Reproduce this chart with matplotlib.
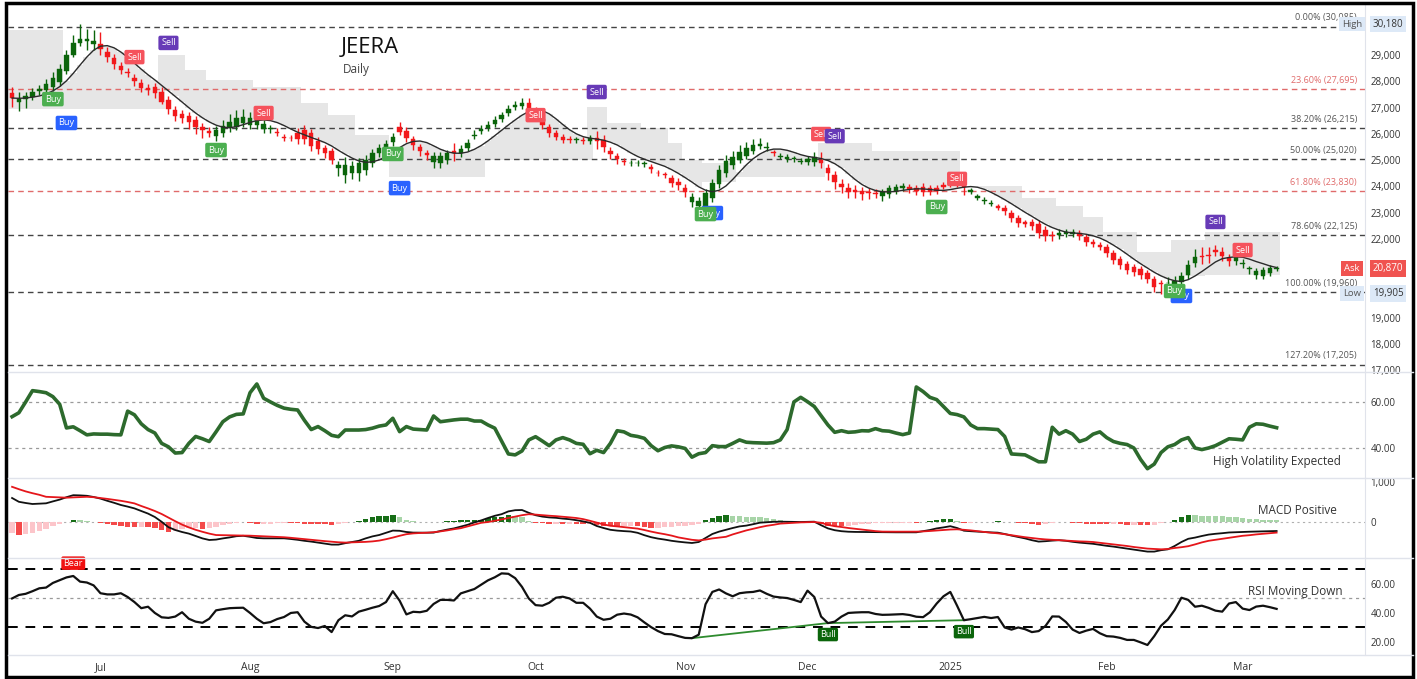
import numpy as np
import pandas as pd
import matplotlib
matplotlib.use("Agg")
import matplotlib.pyplot as plt
from matplotlib.transforms import blended_transform_factory
from matplotlib.lines import Line2D
from matplotlib.patches import Rectangle

plt.rcParams['font.family'] = ['Open Sans', 'DejaVu Sans']

# ------------------------------------------------------------------ data
opens = [
    27550, 27210, 27320, 27400, 27630, 27670, 27780, 27970, 28390, 29000,
    29460, 29530, 29420, 29420, 29110, 28890, 28580, 28350, 28120, 27930,
    27740, 27780, 27590, 27290, 26900, 26750, 26680, 26520, 26260, 26100,
    25910, 26030, 26220, 26260, 26410, 26330, 26330, 26180, 26180, 26070,
    25880, 25840, 26030, 26140, 26030, 25720, 25460, 25340, 24700, 24430,
    24500, 24500, 24620, 24890, 25270, 25460, 25690, 26260, 26100, 25800,
    25500, 25270, 24920, 24890, 25000, 25340, 25270, 25460, 25910, 26100,
    26220, 26370, 26560, 26790, 27020, 27060, 27170, 26870, 26560, 26260,
    26030, 25880, 25800, 25760, 25760, 25720, 25840, 25760, 25340, 25150,
    24960, 24870, 24870, 24830, 24730, 24520, 24450, 24310, 24160, 23930,
    23400, 23250, 23250, 23550, 24090, 24500, 24810, 25000, 25150, 25340,
    25530, 25440, 25290, 25130, 25040, 25020, 24940, 24920, 24920, 25000,
    24700, 24430, 24090, 23930, 23860, 23820, 23780, 23760, 23630, 23700,
    23820, 23930, 23970, 23930, 23970, 23930, 23930, 24030, 24180, 24240,
    24090, 23800, 23570, 23440, 23340, 23230, 23170, 22980, 22790, 22620,
    22640, 22560, 22330, 22160, 22140, 22200, 22200, 22220, 22070, 21880,
    21760, 21690, 21460, 21230, 21040, 20920, 20850, 20700, 20470, 20300,
    20300, 20240, 20350, 20620, 21080, 21360, 21400, 21570, 21500, 21270,
    21150, 21020, 20830, 20620, 20580, 20700, 20840,
]
closes = [
    27360, 27320, 27440, 27590, 27700, 27900, 28120, 28470, 29000, 29460,
    29610, 29610, 29530, 29230, 28920, 28660, 28430, 28310, 28010, 27740,
    27670, 27550, 27210, 26940, 26680, 26600, 26450, 26260, 26140, 26030,
    26140, 26300, 26450, 26600, 26640, 26600, 26560, 26370, 26200, 26030,
    25840, 25820, 25800, 25800, 25530, 25420, 25270, 25000, 24810, 24810,
    24770, 24890, 25000, 25270, 25460, 25610, 25880, 26070, 25840, 25570,
    25340, 25190, 25150, 25150, 25270, 25270, 25420, 25650, 25950, 26180,
    26330, 26520, 26710, 26940, 27100, 27170, 26980, 26680, 26330, 26030,
    25880, 25760, 25760, 25780, 25720, 25840, 25720, 25500, 25230, 25040,
    24920, 24900, 24900, 24870, 24660, 24490, 24410, 24120, 24050, 23780,
    23590, 23440, 23740, 24120, 24620, 24960, 25110, 25300, 25460, 25570,
    25610, 25480, 25250, 25170, 25110, 25060, 24980, 25040, 25110, 24890,
    24500, 24160, 23970, 23780, 23780, 23700, 23740, 23720, 23780, 23930,
    23970, 24010, 23890, 23820, 23780, 23780, 23820, 23990, 24140, 24120,
    23970, 23840, 23610, 23480, 23380, 23190, 23060, 22790, 22600, 22580,
    22490, 22220, 22110, 22120, 22220, 22240, 22240, 22110, 21880, 21800,
    21690, 21460, 21190, 21000, 20810, 20730, 20620, 20470, 20160, 20260,
    20330, 20390, 20580, 21000, 21310, 21320, 21360, 21500, 21340, 21150,
    21340, 21060, 20870, 20770, 20810, 20890, 20870,
]
wick_up = [
    230, 270, 150, 150, 150, 190, 230, 190, 190, 300,
    570, 380, 420, 460, 190, 150, 150, 150, 150, 150,
    150, 150, 190, 150, 150, 150, 150, 150, 150, 150,
    150, 230, 300, 300, 300, 230, 190, 150, 150, 150,
    110, 110, 190, 190, 150, 150, 110, 110, 150, 300,
    190, 190, 190, 150, 150, 150, 150, 190, 150, 110,
    110, 110, 150, 150, 110, 300, 150, 150, 190, 150,
    150, 150, 110, 150, 150, 190, 190, 150, 110, 110,
    110, 110, 110, 110, 110, 110, 270, 190, 150, 110,
    110, 110, 110, 110, 110, 110, 110, 110, 150, 150,
    150, 150, 150, 150, 190, 230, 230, 270, 230, 230,
    230, 190, 110, 110, 110, 110, 110, 110, 190, 300,
    150, 150, 190, 190, 190, 150, 150, 150, 110, 110,
    110, 110, 110, 110, 150, 110, 110, 150, 190, 190,
    150, 110, 110, 110, 110, 110, 110, 110, 110, 110,
    110, 150, 150, 150, 150, 150, 150, 110, 110, 110,
    110, 110, 110, 110, 110, 110, 110, 110, 110, 110,
    230, 190, 150, 190, 300, 340, 300, 190, 190, 150,
    150, 150, 110, 110, 110, 110, 110,
]
wick_dn = [
    340, 340, 340, 110, 150, 190, 150, 150, 110, 80,
    110, 340, 230, 230, 190, 190, 150, 150, 190, 150,
    190, 190, 80, 190, 190, 190, 270, 270, 300, 150,
    190, 150, 150, 110, 150, 150, 150, 150, 150, 110,
    110, 110, 190, 190, 190, 190, 190, 150, 300, 300,
    230, 300, 190, 150, 150, 150, 150, 110, 150, 190,
    190, 190, 230, 190, 150, 300, 150, 110, 110, 110,
    110, 110, 110, 110, 110, 110, 150, 150, 150, 150,
    110, 110, 110, 110, 110, 110, 300, 190, 190, 190,
    110, 110, 110, 110, 150, 110, 110, 150, 190, 190,
    190, 150, 150, 150, 150, 150, 150, 110, 110, 110,
    110, 110, 110, 110, 110, 110, 110, 110, 150, 190,
    270, 270, 230, 230, 230, 230, 230, 150, 190, 150,
    110, 110, 150, 150, 150, 110, 110, 110, 150, 150,
    300, 110, 110, 110, 110, 110, 150, 150, 150, 150,
    150, 190, 190, 190, 150, 150, 150, 150, 150, 110,
    110, 150, 150, 150, 150, 150, 150, 150, 190, 355,
    270, 190, 190, 150, 150, 270, 270, 150, 190, 190,
    150, 150, 190, 150, 110, 110, 80,
]
volatility = [
    53.6, 55.3, 60.0, 64.9, 64.5, 64.0, 62.3, 59.0, 48.7, 49.2,
    47.5, 45.7, 46.1, 46.0, 46.0, 45.8, 45.7, 56.0, 54.4, 50.5,
    48.0, 46.5, 42.0, 40.5, 37.8, 38.0, 42.0, 45.0, 44.0, 42.8,
    47.0, 51.4, 53.5, 54.6, 54.8, 64.0, 67.8, 61.6, 60.0, 58.5,
    57.3, 56.8, 56.5, 52.0, 48.0, 49.3, 47.5, 45.5, 44.9, 47.8,
    47.8, 47.8, 48.0, 48.6, 49.5, 50.0, 52.9, 47.1, 49.3, 48.2,
    48.0, 47.8, 53.9, 51.4, 51.8, 52.2, 52.5, 52.5, 51.7, 51.7,
    50.0, 48.6, 43.0, 37.4, 37.0, 38.7, 43.5, 44.9, 43.0, 41.0,
    43.5, 44.5, 43.5, 42.0, 41.6, 37.5, 39.0, 38.0, 42.0, 47.5,
    47.0, 45.5, 45.0, 44.2, 41.0, 38.8, 40.2, 40.9, 40.5, 39.8,
    36.0, 37.5, 38.0, 41.0, 40.6, 40.6, 42.0, 43.5, 42.5, 42.3,
    42.2, 42.1, 42.3, 43.5, 48.0, 60.0, 62.0, 60.1, 58.0, 54.0,
    50.0, 46.8, 47.5, 46.8, 47.0, 47.5, 47.4, 48.4, 47.5, 47.3,
    46.5, 45.8, 46.5, 66.5, 64.5, 62.0, 61.0, 58.0, 55.0, 54.5,
    53.5, 50.0, 48.4, 48.4, 48.2, 48.0, 45.0, 37.4, 37.2, 37.0,
    35.5, 34.0, 34.0, 49.0, 46.0, 47.5, 46.0, 42.8, 43.8, 46.0,
    47.0, 44.5, 42.8, 42.0, 41.5, 40.0, 35.0, 31.0, 33.0, 38.0,
    40.5, 41.5, 43.5, 44.5, 40.0, 39.3, 40.0, 41.0, 42.5, 44.0,
    43.8, 43.5, 49.0, 50.5, 50.3, 49.5, 48.8,
]
macd_line = [
    600, 505, 475, 450, 458, 467, 515, 560, 620, 670,
    665, 655, 625, 585, 530, 480, 425, 385, 340, 275,
    210, 125, 5, -130, -200, -250, -290, -350, -410, -450,
    -440, -410, -385, -355, -345, -370, -400, -408, -408, -408,
    -408, -425, -445, -470, -490, -515, -540, -565, -565, -530,
    -500, -470, -410, -360, -325, -270, -215, -220, -250, -265,
    -267, -267, -265, -225, -190, -160, -115, -70, -10, 40,
    100, 155, 195, 265, 295, 300, 230, 170, 135, 115,
    105, 85, 70, 45, 15, -20, -100, -150, -195, -215,
    -228, -238, -270, -330, -380, -415, -440, -470, -492, -510,
    -525, -500, -400, -300, -240, -195, -150, -110, -90, -55,
    -17, -5, 5, 8, 5, 2, 0, 4, 8, -80,
    -160, -205, -230, -243, -248, -250, -253, -256, -258, -258,
    -258, -258, -258, -258, -230, -200, -160, -135, -105, -150,
    -217, -230, -240, -250, -260, -267, -300, -340, -375, -410,
    -455, -490, -480, -465, -455, -470, -495, -515, -530, -545,
    -570, -595, -615, -640, -665, -690, -715, -740, -740, -705,
    -683, -600, -500, -420, -390, -350, -315, -295, -280, -262,
    -255, -250, -243, -238, -235, -230, -225,
]
signal_line = [
    880, 820, 765, 720, 680, 630, 622, 615, 608, 615,
    622, 630, 620, 600, 578, 555, 530, 500, 465, 400,
    340, 275, 200, 110, 20, -65, -135, -195, -245, -290,
    -326, -330, -333, -336, -339, -342, -350, -358, -365, -373,
    -381, -395, -412, -430, -447, -463, -478, -493, -507, -515,
    -510, -503, -497, -485, -465, -430, -390, -345, -305, -285,
    -275, -268, -255, -235, -210, -180, -155, -110, -65, -20,
    0, 30, 65, 100, 135, 170, 195, 185, 170, 157,
    146, 132, 116, 100, 72, 30, -15, -60, -95, -110,
    -128, -145, -165, -200, -240, -275, -305, -340, -385, -415,
    -445, -460, -440, -410, -390, -370, -310, -260, -210, -170,
    -130, -95, -70, -40, -30, -20, -10, -5, 0, -20,
    -70, -105, -125, -150, -170, -190, -210, -228, -240, -242,
    -242, -242, -242, -241, -235, -225, -212, -200, -188, -183,
    -195, -210, -230, -250, -268, -283, -305, -330, -355, -380,
    -400, -420, -435, -445, -455, -465, -475, -485, -490, -500,
    -520, -540, -560, -580, -600, -625, -645, -665, -675, -683,
    -675, -650, -630, -605, -560, -510, -470, -445, -420, -395,
    -370, -345, -330, -310, -295, -280, -265,
]
rsi = [
    50.0, 52.4, 53.2, 55.0, 57.0, 57.5, 60.7, 62.6, 64.5, 65.5,
    61.6, 61.0, 59.0, 53.6, 52.8, 52.8, 53.6, 51.0, 47.5, 43.3,
    44.3, 40.0, 37.0, 36.6, 37.5, 40.5, 36.0, 34.0, 33.2, 36.0,
    41.8, 42.6, 43.3, 43.5, 43.6, 40.0, 36.0, 32.9, 33.7, 35.8,
    37.2, 40.0, 40.5, 34.0, 30.4, 29.6, 31.0, 26.8, 35.0, 38.4,
    37.6, 40.9, 42.2, 43.6, 44.8, 47.5, 55.0, 48.5, 39.0, 40.8,
    40.5, 41.5, 46.2, 49.0, 49.0, 48.6, 53.5, 55.0, 56.5, 59.5,
    62.5, 64.6, 67.3, 67.0, 64.0, 58.0, 50.0, 45.4, 45.0, 47.0,
    50.5, 51.2, 50.0, 47.0, 47.0, 43.0, 37.5, 35.3, 36.0, 38.8,
    39.6, 38.9, 37.0, 33.5, 30.2, 27.5, 25.5, 25.3, 24.0, 22.8,
    22.6, 25.0, 46.0, 54.5, 56.2, 53.5, 51.5, 53.6, 54.2, 54.5,
    55.5, 53.2, 51.3, 50.7, 50.3, 49.0, 47.5, 55.4, 51.0, 37.5,
    33.0, 34.0, 37.5, 40.0, 40.3, 40.5, 40.5, 39.3, 38.7, 38.8,
    39.0, 39.2, 38.6, 37.4, 37.1, 40.5, 46.5, 51.5, 54.5, 45.0,
    35.0, 35.7, 36.5, 37.3, 36.5, 37.2, 30.0, 28.5, 30.0, 28.8,
    26.8, 27.5, 31.0, 37.6, 37.5, 33.8, 28.5, 26.2, 27.8, 29.0,
    26.0, 24.0, 23.7, 22.8, 21.4, 21.4, 19.7, 17.9, 24.0, 31.2,
    35.5, 42.0, 50.5, 49.0, 44.3, 45.0, 43.5, 41.6, 40.9, 46.5,
    47.5, 43.0, 42.0, 44.4, 45.0, 44.0, 42.8,
]

fib_pct = [0.0, 23.6, 38.2, 50.0, 61.8, 78.6, 100.0, 127.2]
fib_price = [30085, 27695, 26215, 25020, 23830, 22125, 19960, 17205]
fib_is_red = [False, True, False, False, True, False, False, False]

price_ticks = [17000, 18000, 19000, 20000, 21000, 22000, 23000, 24000,
               25000, 26000, 27000, 28000, 29000]
range_high = 30180
range_low = 19905
ask_price = 20870

# signal badges: (bar, price, text, kind)
badges = [
    (8, 26410, 'Buy', 'blue'), (57, 23930, 'Buy', 'blue'),
    (103, 22980, 'Buy', 'blue'), (172, 19820, 'Buy', 'blue'),
    (18, 28920, 'Sell', 'red'), (37, 26790, 'Sell', 'red'),
    (77, 26710, 'Sell', 'red'), (119, 25990, 'Sell', 'red'),
    (139, 24280, 'Sell', 'red'), (181, 21570, 'Sell', 'red'),
    (6, 27320, 'Buy', 'green'), (30, 25380, 'Buy', 'green'),
    (56, 25230, 'Buy', 'green'), (102, 22940, 'Buy', 'green'),
    (136, 23210, 'Buy', 'green'), (171, 20010, 'Buy', 'green'),
    (23, 29460, 'Sell', 'purple'), (86, 27590, 'Sell', 'purple'),
    (121, 25910, 'Sell', 'purple'), (177, 22640, 'Sell', 'purple'),
]

# shaded zones: (first bar, last bar, upper, lower); None = moving average
cloud_segments = [
    (0, 7, 29950, 26930), (7, 22, None, 26930),
    (22, 25, 29000, None), (26, 28, 28430, None), (29, 35, 28050, None),
    (36, 42, 27780, None), (43, 46, 27190, None), (47, 50, 26710, None),
    (51, 55, 25950, None), (56, 69, None, 24350), (70, 85, None, 25000),
    (85, 87, 27020, None), (88, 92, 26410, None), (93, 96, 26220, None),
    (97, 98, 25650, None), (99, 101, 25000, None),
    (102, 106, 24900, 24160), (107, 119, None, 24350),
    (119, 126, 25630, None), (127, 139, 25360, None),
    (139, 148, 24000, None), (149, 153, 23550, None), (154, 157, 23240, None),
    (158, 160, 22830, None), (161, 165, 22270, None), (166, 171, 21500, None),
    (171, 175, 21970, 20590), (176, 186, 22260, 20620),
]

rsi_bear = [(9, 'Bear')]
rsi_bull = [(120, 'Bull'), (140, 'Bull')]
divergence = [(100, 120), (120, 140)]

holidays = ['2024-06-17', '2024-07-17', '2024-08-15', '2024-10-02',
            '2024-11-01', '2024-11-15', '2024-11-20', '2024-12-25']

# ------------------------------------------------------------------ prep
n = min(len(opens), len(closes), len(wick_up), len(wick_dn), len(volatility),
        len(macd_line), len(signal_line), len(rsi))
print('lengths', len(opens), len(closes), len(wick_up), len(wick_dn),
      len(volatility), len(macd_line), len(signal_line), len(rsi))
x = np.arange(n)
o = np.array(opens[:n], float)
c = np.array(closes[:n], float)
hi = np.maximum(o, c) + np.array(wick_up[:n], float)
lo = np.minimum(o, c) - np.array(wick_dn[:n], float)
is_up = c >= o
ma = pd.Series(c).rolling(5, min_periods=1).mean().ewm(span=3, adjust=False).mean().to_numpy()

dates = pd.bdate_range('2024-06-11', '2025-04-30')
dates = dates[~dates.isin(pd.to_datetime(holidays))][:n]
tick_idx, tick_lab = [], []
for i in range(1, n):
    if dates[i].month != dates[i - 1].month:
        tick_idx.append(i)
        tick_lab.append('2025' if dates[i].month == 1 else dates[i].strftime('%b'))

# ------------------------------------------------------------------ figure
W, H = 1417, 679
fig = plt.figure(figsize=(W / 100, H / 100), dpi=100)
fig.patch.set_facecolor('white')
X0, X1 = 8, 1365


def px_axes(top, bottom):
    return fig.add_axes([X0 / W, 1 - bottom / H, (X1 - X0) / W, (bottom - top) / H])


ax = px_axes(5, 372)
axv = px_axes(372, 478)
axm = px_axes(478, 558)
axr = px_axes(558, 655)

GREEN = '#0b650b'
RED = '#f2191c'
TXT = '#333333'
SEP = '#e0e3eb'

for a in (ax, axv, axm, axr):
    a.set_xlim(-0.6, 199)
    a.set_facecolor('none')
    for s in ('top', 'left', 'bottom'):
        a.spines[s].set_visible(False)
    a.spines['right'].set_color(SEP)
    a.yaxis.tick_right()
    a.tick_params(axis='y', length=0, labelsize=7, labelcolor=TXT, pad=4)
    a.tick_params(axis='x', length=0)
    a.set_xticks([])

# ---------------- main price panel
ax.set_ylim(16924, 30905)
for (a0, a1, up_v, lo_v) in cloud_segments:
    idx = np.arange(a0, a1 + 1)
    top = ma[idx] if up_v is None else np.full(len(idx), float(up_v))
    bot = ma[idx] if lo_v is None else np.full(len(idx), float(lo_v))
    xs = np.append(idx - 0.5, idx[-1] + 0.5)
    ax.fill_between(xs, np.append(bot, bot[-1]), np.append(top, top[-1]),
                    step='post', color='#e6e6e6', lw=0, zorder=1)

for pct, pr, red in zip(fib_pct, fib_price, fib_is_red):
    col = '#e06b6b' if red else '#444444'
    ax.axhline(pr, color=col, lw=1, dashes=(4, 3), zorder=2)
    ax.annotate(f"{pct:.2f}% ({pr:,})", xy=((1357 - X0) / (X1 - X0), pr),
                xycoords=('axes fraction', 'data'), xytext=(0, 3),
                textcoords='offset points', ha='right', va='bottom',
                fontsize=6.5, color='#e06b6b' if red else '#555555', zorder=6)

colors = np.where(is_up, GREEN, RED)
ax.vlines(x, lo, hi, colors=colors, lw=1, zorder=3)
body_h = np.maximum(np.abs(c - o), 30)
ax.bar(x, body_h, bottom=np.minimum(o, c), width=0.66, color=colors,
       edgecolor=colors, lw=0.3, zorder=4)
ax.plot(x, ma, color='#2b2b2b', lw=1.0, zorder=5)

badge_col = {'green': '#4caf50', 'blue': '#2962ff', 'red': '#f5525c', 'purple': '#673ab7'}
for b, pr, t, k in badges:
    ax.text(b, pr, t, ha='center', va='center', fontsize=6.6, color='white',
            zorder=8, bbox=dict(boxstyle='round,pad=0.3,rounding_size=0.2',
                                fc=badge_col[k], ec='none'))

ax.text((370 - X0) / (X1 - X0), 0.883, 'JEERA', transform=ax.transAxes,
        ha='center', va='center', fontsize=16, color='#111111')
ax.text((356 - X0) / (X1 - X0), 0.823, 'Daily', transform=ax.transAxes,
        ha='center', va='center', fontsize=8.5, color='#444444')

ax.set_yticks(price_ticks)
ax.set_yticklabels([f"{v:,}" for v in price_ticks])

tr = blended_transform_factory(ax.transAxes, ax.transData)
fx = lambda px: (px - X0) / (X1 - X0)
for pr, name, fc, tc in [(range_high, 'High', '#dde9f7', '#555555'),
                         (range_low, 'Low', '#dde9f7', '#555555'),
                         (ask_price, 'Ask', '#f05350', 'white')]:
    ax.text(fx(1352), pr, name, transform=tr, ha='center', va='center', fontsize=6.8,
            color=tc, zorder=9, clip_on=False,
            bbox=dict(boxstyle='square,pad=0.3', fc=fc, ec='none'))
    ax.text(fx(1388), pr, f"{pr:,}", transform=tr, ha='center', va='center',
            fontsize=7, color=('white' if name == 'Ask' else TXT), zorder=9, clip_on=False,
            bbox=dict(boxstyle='square,pad=0.3', fc=fc, ec='none'))

# ---------------- volatility panel
axv.set_ylim(26.96, 73.0)
for lv in (60, 40):
    axv.axhline(lv, color='#9a9a9a', lw=0.9, dashes=(2.5, 3))
axv.plot(x, volatility[:n], color='#2d6a2d', lw=2.6, solid_joinstyle='round')
axv.set_yticks([60, 40])
axv.set_yticklabels(['60.00', '40.00'])
axv.text(fx(1277), 0.16, 'High Volatility Expected', transform=axv.transAxes,
         ha='center', va='center', fontsize=8.5, color=TXT)

# ---------------- MACD panel
axm.set_ylim(-900, 1100)
mac = np.array(macd_line[:n], float)
sig = np.array(signal_line[:n], float)
hist = mac - sig
prev = np.append(hist[0], hist[:-1])
hcol = []
for h, p in zip(hist, prev):
    if h >= 0:
        hcol.append('#176e17' if h >= p else '#a8d5a8')
    else:
        hcol.append('#f44a4a' if h < p else '#fcc5ca')
axm.axhline(0, color='#b0b0b0', lw=0.8, dashes=(2, 3))
axm.bar(x, hist, width=0.8, color=hcol, zorder=2)
axm.plot(x, mac, color='#111111', lw=1.3, zorder=3)
axm.plot(x, sig, color='#e5161b', lw=1.3, zorder=3)
axm.set_yticks([1000, 0])
axm.set_yticklabels(['1,000', '0'])
axm.text(fx(1297), 0.59, 'MACD Positive', transform=axm.transAxes,
         ha='center', va='center', fontsize=8.5, color=TXT)

# ---------------- RSI panel
axr.set_ylim(11.0, 77.9)
axr.axhline(70, color='black', lw=1.4, dashes=(5, 4))
axr.axhline(30, color='black', lw=1.4, dashes=(5, 4))
axr.axhline(50, color='#9a9a9a', lw=0.9, dashes=(2.5, 3))
r = np.array(rsi[:n], float)
for a0, a1 in divergence:
    axr.plot([a0, a1], [r[a0], r[a1]], color='#2e8b2e', lw=1.3, zorder=2)
axr.plot(x, r, color='#111111', lw=1.6, zorder=3)
for b, t in rsi_bear:
    axr.annotate(t, xy=(b, r[b]), xytext=(0, 6), textcoords='offset points',
                 ha='center', va='bottom', fontsize=6.5, color='white', zorder=5,
                 bbox=dict(boxstyle='round,pad=0.25,rounding_size=0.2', fc='#f01010', ec='none'))
for b, t in rsi_bull:
    axr.annotate(t, xy=(b, r[b]), xytext=(0, -5), textcoords='offset points',
                 ha='center', va='top', fontsize=6.5, color='white', zorder=5,
                 bbox=dict(boxstyle='round,pad=0.25,rounding_size=0.2', fc='#0b650b', ec='none'))
axr.set_yticks([60, 40, 20])
axr.set_yticklabels(['60.00', '40.00', '20.00'])
axr.text(fx(1295), 0.65, 'RSI Moving Down', transform=axr.transAxes,
         ha='center', va='center', fontsize=8.5, color=TXT)
axr.set_xticks(tick_idx)
axr.set_xticklabels(tick_lab, fontsize=7.5, color=TXT)
axr.tick_params(axis='x', length=0, pad=5)

# ---------------- separators and frame
for yy in (372, 478, 558, 655):
    fig.add_artist(Line2D([X0 / W, 1413 / W], [1 - yy / H, 1 - yy / H],
                          color=SEP, lw=1))
fig.add_artist(Rectangle((6 / W, 2 / H), 1407 / W, 674 / H, fill=False,
                         ec='black', lw=2.5, transform=fig.transFigure))

fig.savefig('out.png', dpi=100)
